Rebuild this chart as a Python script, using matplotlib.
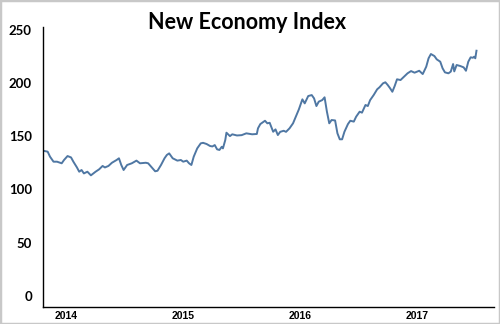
import matplotlib
matplotlib.use("Agg")
import matplotlib.pyplot as plt

# 指数データ (x: 小数年, y: 指数値)
years = [
    2013.80, 2013.84, 2013.86, 2013.89, 2013.92, 2013.96, 2013.98, 2014.01, 2014.04, 2014.06,
    2014.09, 2014.11, 2014.13, 2014.15, 2014.18, 2014.21, 2014.25, 2014.28, 2014.31, 2014.33,
    2014.36, 2014.39, 2014.43, 2014.45, 2014.47, 2014.49, 2014.52, 2014.56, 2014.60, 2014.63,
    2014.68, 2014.70, 2014.73, 2014.76, 2014.78, 2014.81, 2014.84, 2014.86, 2014.88, 2014.91,
    2014.95, 2014.98, 2015.00, 2015.03, 2015.05, 2015.07, 2015.09, 2015.12, 2015.15, 2015.17,
    2015.20, 2015.23, 2015.25, 2015.27, 2015.29, 2015.31, 2015.33, 2015.34, 2015.36, 2015.37,
    2015.40, 2015.42, 2015.46, 2015.50, 2015.54, 2015.59, 2015.63, 2015.64, 2015.66, 2015.70,
    2015.72, 2015.74, 2015.77, 2015.79, 2015.81, 2015.83, 2015.86, 2015.88, 2015.91, 2015.94,
    2015.97, 2015.99, 2016.02, 2016.04, 2016.07, 2016.10, 2016.12, 2016.14, 2016.16, 2016.19,
    2016.21, 2016.23, 2016.25, 2016.27, 2016.30, 2016.32, 2016.34, 2016.36, 2016.38, 2016.41,
    2016.43, 2016.46, 2016.48, 2016.51, 2016.53, 2016.56, 2016.58, 2016.60, 2016.63, 2016.66,
    2016.68, 2016.71, 2016.73, 2016.75, 2016.77, 2016.79, 2016.81, 2016.83, 2016.86, 2016.89,
    2016.92, 2016.95, 2016.98, 2017.02, 2017.05, 2017.08, 2017.10, 2017.12, 2017.15, 2017.17,
    2017.20, 2017.22, 2017.24, 2017.27, 2017.29, 2017.31, 2017.32, 2017.34, 2017.37, 2017.40,
    2017.42, 2017.44, 2017.46, 2017.48, 2017.49, 2017.50, 2017.51,
]
index_values = [
    136.3, 135.4, 130.7, 126.0, 126.0, 124.5, 127.6, 131.3, 130.0, 126.0,
    120.7, 116.6, 118.2, 115.0, 116.6, 113.2, 116.6, 118.8, 122.0, 120.6,
    122.0, 125.0, 127.6, 129.2, 122.9, 118.2, 122.9, 124.5, 127.0, 124.5,
    125.0, 124.5, 120.7, 117.0, 117.5, 122.9, 129.2, 132.3, 133.8, 129.2,
    127.0, 127.6, 126.0, 127.0, 124.5, 122.9, 130.7, 138.5, 143.2, 143.7,
    142.6, 140.7, 140.3, 141.6, 137.6, 137.0, 140.0, 138.5, 146.3, 153.2,
    150.0, 151.7, 150.6, 150.9, 152.6, 151.7, 152.0, 157.3, 161.3, 164.4,
    162.0, 162.5, 154.1, 156.3, 151.0, 154.0, 155.0, 154.0, 157.3, 162.0,
    169.8, 175.1, 184.5, 180.7, 187.6, 188.5, 185.4, 178.2, 182.3, 183.8,
    186.4, 172.9, 162.0, 165.1, 164.7, 152.6, 147.0, 147.0, 154.1, 161.3,
    164.4, 163.6, 168.2, 172.9, 172.0, 179.2, 178.2, 183.8, 188.5, 193.9,
    195.8, 199.5, 200.5, 198.0, 195.0, 191.6, 197.0, 203.3, 202.6, 205.7,
    208.9, 211.0, 209.5, 211.3, 208.2, 215.1, 223.0, 227.0, 225.1, 222.0,
    219.8, 213.6, 209.8, 208.9, 210.5, 217.6, 210.7, 216.7, 215.8, 214.5,
    211.3, 219.8, 223.9, 223.5, 224.5, 223.0, 230.1,
]
y_ticks = [0, 50, 100, 150, 200, 250]
x_ticks = [2014, 2015, 2016, 2017]
x_labels = ["2014", "2015", "2016", "2017"]

fig = plt.figure(figsize=(5, 3.24), dpi=100)
ax = fig.add_axes([0.086, 0.0525, 0.902, 0.864])

ax.plot(years, index_values, color="#4f77a3", linewidth=1.4)

ax.set_xlim(2013.80, 2017.66)
ax.set_ylim(-10.3, 252.3)

ax.set_yticks(y_ticks)
ax.set_yticklabels([str(v) for v in y_ticks], fontsize=9.5, family="Lato", fontweight="bold")
ax.set_xticks(x_ticks)
ax.set_xticklabels(x_labels, fontsize=7.5, family="Liberation Sans", fontweight="bold")
ax.tick_params(axis="y", length=0, pad=8)
ax.tick_params(axis="x", length=0, pad=3)

ax.spines["top"].set_visible(False)
ax.spines["right"].set_visible(False)
ax.spines["left"].set_linewidth(1.0)
ax.spines["bottom"].set_linewidth(1.0)

fig.text(0.494, 0.932, "New Economy Index", ha="center", va="center",
         fontsize=15.5, family="Lato", fontweight="bold")

# 外枠
fig.patches.append(plt.Rectangle((0, 0), 1, 1, transform=fig.transFigure,
                                 fill=False, edgecolor="#c8c8c8", linewidth=2.5))

fig.savefig("out.png", dpi=100)
